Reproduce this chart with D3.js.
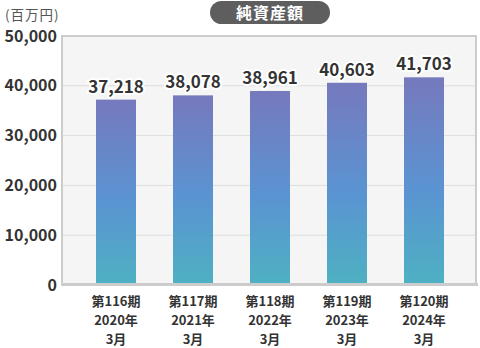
<!DOCTYPE html>
<html><head><meta charset="utf-8">
<script src="https://cdn.jsdelivr.net/npm/d3@7"></script>
<style>body{margin:0;background:#fff;}svg{display:block;font-family:"Noto Sans CJK JP","Noto Sans",sans-serif;}</style>
</head><body>
<svg id="c" width="480" height="348"></svg>
<script>
const periods = ["第116期","第117期","第118期","第119期","第120期"];
const years = ["2020年","2021年","2022年","2023年","2024年"];
const months = ["3月","3月","3月","3月","3月"];
const values = [37218, 38078, 38961, 40603, 41703];
const yTicks = [0, 10000, 20000, 30000, 40000, 50000];
const title = "純資産額";
const unit = "(百万円)";

const svg = d3.select("#c");
const x = d3.scaleBand().domain(periods).range([77.5, 462.5]).paddingInner(1 - 40/77).paddingOuter((1-40/77)/2);
const y = d3.scaleLinear().domain([0, 50000]).range([285, 36]);

const defs = svg.append("defs");
const g = defs.append("linearGradient").attr("id","bg").attr("x1",0).attr("y1",0).attr("x2",0).attr("y2",1);
g.append("stop").attr("offset","0%").attr("stop-color","#7679bd");
g.append("stop").attr("offset","55%").attr("stop-color","#5a94d2");
g.append("stop").attr("offset","100%").attr("stop-color","#4eb1c2");

// plot box
svg.append("rect").attr("x",62).attr("y",36).attr("width",414).attr("height",249)
  .attr("fill","#f5f5f5").attr("stroke","#cccccc").attr("stroke-width",2);

// gridlines
svg.append("g").selectAll("line").data(yTicks.filter(d=>d>0&&d<50000)).join("line")
  .attr("x1",63).attr("x2",475).attr("y1",d=>y(d)).attr("y2",d=>y(d))
  .attr("stroke","#dddddd").attr("stroke-width",1);

// y axis
const ya = svg.append("g").attr("transform","translate(60,0)")
  .call(d3.axisLeft(y).tickValues(yTicks).tickSize(0).tickPadding(3).tickFormat(d3.format(",")));
ya.select(".domain").remove();
ya.selectAll("text").attr("font-size",16).attr("font-weight","bold").attr("fill","#333")
  .attr("font-family","'Noto Sans CJK JP',sans-serif");

// bars
svg.append("g").selectAll("rect").data(values).join("rect")
  .attr("x",(d,i)=>x(periods[i])).attr("width",x.bandwidth())
  .attr("y",d=>y(d)).attr("height",d=>y(0)-y(d)).attr("fill","url(#bg)");

// bottom axis line
svg.append("line").attr("x1",61).attr("x2",478).attr("y1",284.5).attr("y2",284.5)
  .attr("stroke","#cccccc").attr("stroke-width",3);

// value labels
svg.append("g").selectAll("text").data(values).join("text")
  .attr("x",(d,i)=>x(periods[i])+x.bandwidth()/2).attr("y",d=>y(d)-7)
  .attr("text-anchor","middle").attr("font-size",17).attr("font-weight","bold")
  .attr("font-family","'Noto Sans CJK JP',sans-serif")
  .attr("fill","#333").attr("stroke","#fff").attr("stroke-width",4).attr("paint-order","stroke")
  .attr("stroke-linejoin","round")
  .text(d=>d3.format(",")(d));

// x labels
const xl = svg.append("g").selectAll("text").data(periods).join("text")
  .attr("x",d=>x(d)+x.bandwidth()/2).attr("text-anchor","middle")
  .attr("font-size",13).attr("font-weight","bold").attr("fill","#333");
xl.append("tspan").attr("x",d=>x(d)+x.bandwidth()/2).attr("y",306).text(d=>d);
xl.append("tspan").attr("x",d=>x(d)+x.bandwidth()/2).attr("y",325).text((d,i)=>years[i]);
xl.append("tspan").attr("x",d=>x(d)+x.bandwidth()/2).attr("y",344).text((d,i)=>months[i]);

// unit
svg.append("text").attr("x",5).attr("y",20).attr("font-size",13.5).attr("letter-spacing",1)
  .attr("fill","#555").text(unit);

// title pill
svg.append("rect").attr("x",210).attr("y",1).attr("width",120).attr("height",23).attr("rx",11.5)
  .attr("fill","#5e5e5e");
svg.append("text").attr("x",270).attr("y",19).attr("text-anchor","middle").attr("font-size",16)
  .attr("font-weight","bold").attr("fill","#fff").attr("letter-spacing",1).text(title);
</script>
</body></html>
